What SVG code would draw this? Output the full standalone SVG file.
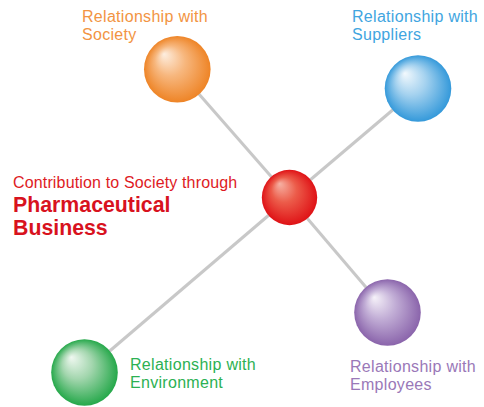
<svg xmlns="http://www.w3.org/2000/svg" width="484" height="407" viewBox="0 0 484 407">
<style>
.lbl{font-family:"Liberation Sans",Arial,sans-serif;font-size:16px;letter-spacing:0.3px}
.big{font-family:"Liberation Sans",Arial,sans-serif;font-size:21.3px;font-weight:bold}
.conn line{stroke:#c8c8c8;stroke-width:3}
</style>
<defs>
<radialGradient id="gO" cx="0.5" cy="0.5" r="0.5" fx="0.3" fy="0.27"><stop offset="0" stop-color="#fdeee0"/><stop offset="0.45" stop-color="#f7b77e"/><stop offset="1" stop-color="#ee8426"/></radialGradient>
<radialGradient id="gB" cx="0.5" cy="0.5" r="0.5" fx="0.3" fy="0.27"><stop offset="0" stop-color="#f3f9fd"/><stop offset="0.45" stop-color="#a5d2ef"/><stop offset="1" stop-color="#3499da"/></radialGradient>
<radialGradient id="gR" cx="0.5" cy="0.5" r="0.5" fx="0.32" fy="0.25"><stop offset="0" stop-color="#f6b2a4"/><stop offset="0.45" stop-color="#ec5c4a"/><stop offset="1" stop-color="#df1216"/></radialGradient>
<radialGradient id="gP" cx="0.5" cy="0.5" r="0.5" fx="0.3" fy="0.27"><stop offset="0" stop-color="#f6f2f9"/><stop offset="0.45" stop-color="#c2aed6"/><stop offset="1" stop-color="#8a64ab"/></radialGradient>
<radialGradient id="gG" cx="0.5" cy="0.5" r="0.5" fx="0.3" fy="0.27"><stop offset="0" stop-color="#f0f8f1"/><stop offset="0.45" stop-color="#a3d6ae"/><stop offset="1" stop-color="#25a84a"/></radialGradient>
</defs>
<rect width="484" height="407" fill="#ffffff"/>
<g id="connectors" class="conn">
<line x1="177.3" y1="69.3" x2="289.5" y2="197.5"/>
<line x1="418" y1="88.5" x2="289.5" y2="197.5"/>
<line x1="84.5" y1="372.5" x2="289.5" y2="197.5"/>
<line x1="387.5" y1="312.5" x2="289.5" y2="197.5"/>
</g>
<g id="society">
<circle cx="177.3" cy="69.3" r="33.3" fill="url(#gO)"/>
<text class="lbl" fill="#f29443" x="82" y="21.5">Relationship with</text>
<text class="lbl" fill="#f29443" x="82" y="39.5">Society</text>
</g>
<g id="suppliers">
<circle cx="418" cy="88.5" r="33.3" fill="url(#gB)"/>
<text class="lbl" fill="#41a5df" x="352" y="22">Relationship with</text>
<text class="lbl" fill="#41a5df" x="352" y="40">Suppliers</text>
</g>
<g id="center">
<circle cx="289.5" cy="197.5" r="27.7" fill="url(#gR)"/>
<text class="lbl" fill="#de1a24" x="13" y="187.5" style="letter-spacing:0.15px">Contribution to Society through</text>
<text class="big" fill="#d8121e" x="13" y="211.7">Pharmaceutical</text>
<text class="big" fill="#d8121e" x="13" y="234.5">Business</text>
</g>
<g id="environment">
<circle cx="84.5" cy="372.5" r="33.3" fill="url(#gG)"/>
<text class="lbl" fill="#2cb153" x="130" y="370">Relationship with</text>
<text class="lbl" fill="#2cb153" x="130" y="388.3">Environment</text>
</g>
<g id="employees">
<circle cx="387.5" cy="312.5" r="33.3" fill="url(#gP)"/>
<text class="lbl" fill="#9a78b8" x="350" y="372.3">Relationship with</text>
<text class="lbl" fill="#9a78b8" x="350" y="389.5">Employees</text>
</g>
</svg>
